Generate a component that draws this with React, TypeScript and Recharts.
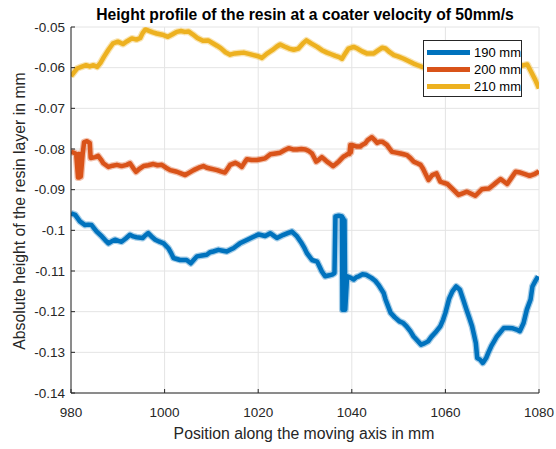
import { LineChart, Line, XAxis, YAxis, CartesianGrid } from "recharts";

const FONT = '"Liberation Sans", Arial, sans-serif';
const INK = "#262626";

const xTicks = [980, 1000, 1020, 1040, 1060, 1080];
const yTicks = [-0.14, -0.13, -0.12, -0.11, -0.1, -0.09, -0.08, -0.07, -0.06, -0.05];

const seriesNames = ["190 mm", "200 mm", "210 mm"];
const seriesColors = ["#0072BD", "#D95319", "#EDB120"];

// 190 mm gap
const pos190 = [
  980.0, 980.9, 981.9, 983.0, 983.7, 984.4, 985.5, 986.6, 987.3, 988.0, 988.7, 989.4, 990.1, 990.8,
  991.7, 992.6, 993.3, 994.0, 995.3, 995.9, 996.5, 997.2, 998.0, 998.9, 999.8, 1000.8, 1001.4, 1001.9,
  1003.3, 1004.7, 1005.6, 1006.3, 1006.9, 1008.0, 1009.0, 1009.7, 1010.4, 1011.5, 1012.4, 1013.3,
  1014.0, 1014.7, 1015.4, 1016.1, 1017.0, 1017.9, 1019.0, 1020.1, 1020.8, 1021.5, 1022.6, 1023.3,
  1024.0, 1025.4, 1026.3, 1027.2, 1028.3, 1029.3, 1029.9, 1030.4, 1031.5, 1032.6, 1033.1, 1033.6,
  1034.3, 1035.0, 1035.8, 1036.3, 1036.5, 1037.2, 1037.9, 1038.0, 1038.15, 1038.3, 1038.45, 1038.6,
  1039.0, 1039.8, 1040.4, 1041.0, 1041.5, 1042.3, 1043.0, 1044.2, 1045.0, 1045.7, 1046.8, 1047.2,
  1048.3, 1049.2, 1050.2, 1051.0, 1051.7, 1052.5, 1053.2, 1054.0, 1054.8, 1055.5, 1056.3, 1057.0,
  1057.8, 1058.9, 1059.5, 1060.0, 1060.8, 1061.5, 1062.3, 1063.1, 1063.8, 1064.5, 1065.1, 1065.7,
  1066.1, 1066.5, 1066.8, 1067.4, 1068.0, 1068.7, 1069.2, 1069.8, 1070.4, 1071.0, 1072.5, 1073.5,
  1074.4, 1075.2, 1075.9, 1076.7, 1077.4, 1078.2, 1078.6, 1079.2, 1079.8,
];
const h190 = [
  -0.0958, -0.0962, -0.0978, -0.0987, -0.0986, -0.0987, -0.1003, -0.1015, -0.1024, -0.1032, -0.1027,
  -0.1023, -0.1026, -0.1028, -0.102, -0.1011, -0.1015, -0.1017, -0.1019, -0.1012, -0.1007, -0.1015,
  -0.1023, -0.1028, -0.1032, -0.1044, -0.1056, -0.1068, -0.1073, -0.1073, -0.1081, -0.1072, -0.1064,
  -0.1062, -0.106, -0.1054, -0.1052, -0.1048, -0.105, -0.1052, -0.1048, -0.1044, -0.1038, -0.1032,
  -0.1027, -0.1022, -0.1016, -0.101, -0.1012, -0.1014, -0.1007, -0.1013, -0.1019, -0.1011, -0.1007,
  -0.1003, -0.1015, -0.1032, -0.1044, -0.1056, -0.1073, -0.1077, -0.1089, -0.1101, -0.1113, -0.1111,
  -0.1109, -0.1105, -0.0966, -0.0964, -0.0966, -0.1195, -0.097, -0.1195, -0.0975, -0.1195, -0.1113,
  -0.1117, -0.1121, -0.1115, -0.1113, -0.1108, -0.1109, -0.1117, -0.1124, -0.1134, -0.1154, -0.117,
  -0.1203, -0.1214, -0.1224, -0.1228, -0.1236, -0.1248, -0.1261, -0.1271, -0.1281, -0.1278, -0.1273,
  -0.1262, -0.1252, -0.1236, -0.122, -0.1203, -0.1168, -0.115, -0.1138, -0.1146, -0.117, -0.1195,
  -0.1215, -0.1236, -0.1256, -0.1277, -0.1314, -0.1318, -0.1326, -0.1314, -0.13, -0.1285, -0.1273,
  -0.1261, -0.124, -0.124, -0.1241, -0.1244, -0.1248, -0.1228, -0.1195, -0.117, -0.1138, -0.1125,
  -0.1113,
];

// 200 mm gap
const pos200 = [
  980.0, 980.6, 981.1, 981.5, 981.65, 981.8, 981.95, 982.1, 982.5, 982.8, 983.4, 984.0, 984.2, 985.2,
  985.8, 986.4, 986.9, 987.5, 988.0, 988.9, 989.8, 990.8, 991.9, 992.6, 993.3, 993.9, 994.7, 995.5,
  996.5, 997.6, 998.5, 999.4, 1000.3, 1001.2, 1002.6, 1003.5, 1004.4, 1005.3, 1006.2, 1007.3, 1008.3,
  1009.0, 1009.7, 1010.5, 1011.2, 1012.0, 1012.9, 1013.5, 1014.0, 1015.1, 1015.8, 1016.5, 1017.1,
  1017.6, 1018.6, 1019.7, 1020.6, 1021.5, 1022.6, 1023.7, 1024.7, 1025.6, 1026.5, 1027.4, 1028.3,
  1029.2, 1030.1, 1030.8, 1031.5, 1032.0, 1032.4, 1033.0, 1033.6, 1034.2, 1034.7, 1035.4, 1036.0,
  1036.6, 1037.2, 1037.7, 1038.2, 1038.8, 1039.3, 1039.5, 1039.7, 1039.8, 1040.0, 1041.1, 1041.8,
  1042.2, 1042.9, 1043.4, 1044.3, 1044.9, 1045.4, 1046.0, 1046.5, 1047.5, 1048.0, 1048.6, 1049.5,
  1050.4, 1051.1, 1051.8, 1052.5, 1053.2, 1054.0, 1054.7, 1055.2, 1055.7, 1056.4, 1056.8, 1057.2,
  1058.1, 1058.5, 1058.9, 1059.6, 1060.4, 1061.4, 1062.1, 1062.8, 1063.7, 1064.6, 1065.5, 1066.4,
  1067.1, 1067.8, 1068.5, 1069.3, 1070.3, 1071.0, 1071.8, 1072.5, 1073.2, 1074.1, 1075.0, 1076.0,
  1077.0, 1078.0, 1079.0, 1080.0,
];
const h200 = [
  -0.0807, -0.0809, -0.0812, -0.087, -0.0812, -0.087, -0.0812, -0.0868, -0.0812, -0.0783, -0.0781,
  -0.0785, -0.0822, -0.082, -0.0817, -0.0826, -0.0835, -0.084, -0.0844, -0.0841, -0.0839, -0.0842,
  -0.0839, -0.0835, -0.0847, -0.0856, -0.0848, -0.0842, -0.084, -0.0837, -0.084, -0.0839, -0.0846,
  -0.0852, -0.0856, -0.086, -0.0864, -0.0858, -0.0852, -0.0846, -0.0842, -0.0846, -0.0848, -0.085,
  -0.0852, -0.0855, -0.0858, -0.0848, -0.0839, -0.0834, -0.0838, -0.0844, -0.0833, -0.0825, -0.0827,
  -0.0827, -0.0825, -0.0823, -0.0813, -0.0811, -0.0809, -0.0803, -0.0798, -0.0801, -0.0801, -0.08,
  -0.0801, -0.0805, -0.0811, -0.0822, -0.0831, -0.0826, -0.082, -0.0826, -0.0831, -0.0837, -0.0842,
  -0.0837, -0.0831, -0.0825, -0.0819, -0.0815, -0.0811, -0.0812, -0.079, -0.0808, -0.079, -0.0794,
  -0.0794, -0.079, -0.0786, -0.0778, -0.0771, -0.0778, -0.0785, -0.0782, -0.0782, -0.079, -0.0798,
  -0.0807, -0.0809, -0.0811, -0.0813, -0.0815, -0.0822, -0.0831, -0.0835, -0.0839, -0.0848, -0.086,
  -0.0876, -0.087, -0.0864, -0.086, -0.087, -0.088, -0.0883, -0.0886, -0.0897, -0.0905, -0.0913,
  -0.0909, -0.0905, -0.091, -0.0915, -0.0907, -0.0899, -0.0898, -0.0897, -0.0888, -0.0881, -0.0874,
  -0.088, -0.0886, -0.0871, -0.0856, -0.0858, -0.0862, -0.0866, -0.0862, -0.0855,
];

// 210 mm gap
const pos210 = [
  980.0, 980.6, 981.3, 982.2, 983.2, 984.0, 984.8, 985.6, 986.3, 987.0, 988.0, 989.0, 990.0, 991.1,
  992.0, 993.0, 994.0, 994.8, 995.3, 995.9, 996.8, 997.5, 998.3, 999.5, 1000.7, 1001.7, 1002.6,
  1003.5, 1004.3, 1005.1, 1006.0, 1007.0, 1008.2, 1009.3, 1010.3, 1011.2, 1012.0, 1013.0, 1014.0,
  1015.0, 1016.0, 1016.9, 1018.0, 1019.0, 1020.0, 1020.8, 1021.8, 1023.0, 1024.0, 1024.7, 1025.6,
  1026.6, 1027.6, 1028.6, 1029.5, 1030.3, 1031.4, 1032.6, 1033.6, 1034.7, 1035.6, 1036.5, 1037.3,
  1037.9, 1038.6, 1039.3, 1040.4, 1041.2, 1042.2, 1043.2, 1044.7, 1045.7, 1046.5, 1047.2, 1048.1,
  1049.0, 1050.0, 1051.1, 1052.2, 1053.2, 1054.1, 1055.0, 1056.0, 1058.0, 1060.0, 1062.0, 1064.0,
  1066.0, 1068.0, 1070.0, 1072.0, 1074.0, 1076.0, 1077.5, 1078.4, 1079.2, 1080.0,
];
const h210 = [
  -0.0621, -0.0612, -0.0602, -0.0598, -0.0594, -0.0597, -0.0594, -0.0598, -0.0588, -0.0574, -0.0556,
  -0.054, -0.0536, -0.0542, -0.0535, -0.0528, -0.0531, -0.0527, -0.0515, -0.0506, -0.051, -0.0513,
  -0.0516, -0.0519, -0.0524, -0.0518, -0.0512, -0.051, -0.0512, -0.0511, -0.0518, -0.0527, -0.0534,
  -0.0533, -0.054, -0.0546, -0.0552, -0.0562, -0.0568, -0.0565, -0.0564, -0.0563, -0.0566, -0.0569,
  -0.0572, -0.0576, -0.0566, -0.0557, -0.0548, -0.0543, -0.0548, -0.0553, -0.0556, -0.0553, -0.0541,
  -0.0533, -0.0541, -0.0549, -0.0557, -0.0563, -0.0567, -0.0571, -0.0574, -0.0578, -0.0565, -0.0553,
  -0.0549, -0.0553, -0.056, -0.0565, -0.0565, -0.0557, -0.0551, -0.0553, -0.0562, -0.0569, -0.0573,
  -0.0578, -0.0584, -0.059, -0.0594, -0.0598, -0.0601, -0.0604, -0.0607, -0.0605, -0.0609, -0.0606,
  -0.061, -0.0607, -0.0604, -0.06, -0.0596, -0.0592, -0.0612, -0.063, -0.0651,
];

const toPoints = (xs: number[], ys: number[]) => xs.map((x, i) => ({ x, v: ys[i] }));

const series = [
  toPoints(pos190, h190),
  toPoints(pos200, h200),
  toPoints(pos210, h210),
];

const fmtY = (v: number) => String(Number(v.toFixed(2)));

const YLabel = () => (
  <text
    x={19}
    y={211}
    transform="rotate(-90 19 211)"
    textAnchor="middle"
    dominantBaseline="central"
    fill={INK}
    fontSize={15.8}
    fontFamily={FONT}
  >
    Absolute height of the resin layer in mm
  </text>
);

const XLabel = () => (
  <text
    x={304}
    y={433}
    textAnchor="middle"
    dominantBaseline="central"
    fill={INK}
    fontSize={15.8}
    fontFamily={FONT}
  >
    Position along the moving axis in mm
  </text>
);

export default function App() {
  return (
    <div style={{ position: "absolute", left: 0, top: 0, width: 556, height: 449, background: "#fff" }}>
      <LineChart
        width={556}
        height={449}
        margin={{ top: 27, right: 17, bottom: 0, left: 0 }}
      >
        <CartesianGrid stroke="#e4e4e4" strokeWidth={1} />
        <XAxis
          type="number"
          dataKey="x"
          domain={[980, 1080]}
          ticks={xTicks}
          allowDataOverflow
          height={56}
          axisLine={{ stroke: INK }}
          tickLine={{ stroke: INK }}
          tickSize={-4}
          tickMargin={18}
          tick={{ fill: INK, fontSize: 13.5, fontFamily: FONT }}
          label={<XLabel />}
        />
        <YAxis
          type="number"
          domain={[-0.14, -0.05]}
          ticks={yTicks}
          allowDataOverflow
          width={71}
          axisLine={{ stroke: INK }}
          tickLine={{ stroke: INK }}
          tickSize={-4}
          tickMargin={10}
          tickFormatter={fmtY}
          tick={{ fill: INK, fontSize: 13.5, fontFamily: FONT }}
          label={<YLabel />}
        />
        {/* soft halo under each trace for the starred-marker edge */}
        {series.map((data, i) => (
          <Line
            key={`halo-${seriesNames[i]}`}
            data={data}
            dataKey="v"
            type="linear"
            stroke={seriesColors[i]}
            strokeOpacity={0.35}
            strokeWidth={7}
            strokeLinejoin="round"
            dot={false}
            activeDot={false}
            legendType="none"
            isAnimationActive={false}
          />
        ))}
        {series.map((data, i) => (
          <Line
            key={seriesNames[i]}
            data={data}
            dataKey="v"
            name={seriesNames[i]}
            type="linear"
            stroke={seriesColors[i]}
            strokeWidth={4.5}
            strokeLinejoin="round"
            dot={false}
            activeDot={false}
            isAnimationActive={false}
          />
        ))}
      </LineChart>

      <div
        style={{
          position: "absolute",
          left: 0,
          top: 6,
          width: 610,
          textAlign: "center",
          fontFamily: FONT,
          fontWeight: "bold",
          fontSize: 15.7,
          color: "#000",
          lineHeight: "18px",
          whiteSpace: "nowrap",
        }}
      >
        Height profile of the resin at a coater velocity of 50mm/s
      </div>

      <div
        style={{
          position: "absolute",
          left: 423,
          top: 40,
          width: 99,
          height: 57,
          boxSizing: "border-box",
          border: `1px solid ${INK}`,
          background: "#fff",
          paddingTop: 3,
          fontFamily: FONT,
          fontSize: 13,
          color: "#000",
          whiteSpace: "nowrap",
        }}
      >
        {seriesNames.map((name, i) => (
          <div key={name} style={{ display: "flex", alignItems: "center", height: 17 }}>
            <div style={{ marginLeft: 3, width: 43, height: 5, flexShrink: 0, background: seriesColors[i] }} />
            <span style={{ marginLeft: 4 }}>{name}</span>
          </div>
        ))}
      </div>
    </div>
  );
}
